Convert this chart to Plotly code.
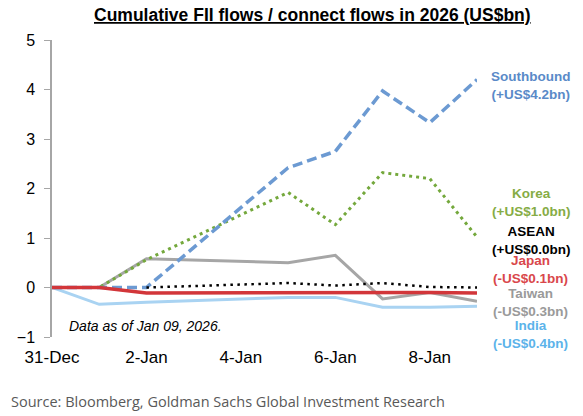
import plotly.graph_objects as go

# cumulative flows, US$bn
dates = ["2025-12-31", "2026-01-01", "2026-01-02", "2026-01-05",
         "2026-01-06", "2026-01-07", "2026-01-08", "2026-01-09"]
southbound = [0, 0, 0, 2.42, 2.75, 3.97, 3.33, 4.2]
korea = [0, 0, 0.56, 1.92, 1.27, 2.32, 2.2, 1.02]
asean = [None, None, 0.0, 0.09, 0.04, 0.09, 0.01, 0.0]
japan = [0, 0, -0.11, -0.1, -0.1, -0.1, -0.1, -0.11]
taiwan = [0, 0, 0.58, 0.5, 0.65, -0.23, -0.1, -0.28]
india = [0, -0.34, -0.3, -0.2, -0.2, -0.4, -0.4, -0.38]

tick_dates = ["2025-12-31", "2026-01-02", "2026-01-04", "2026-01-06", "2026-01-08"]
tick_labels = ["31-Dec", "2-Jan", "4-Jan", "6-Jan", "8-Jan"]

FONT = "Liberation Sans"

fig = go.Figure()

def add_line(y, color, width, dash):
    fig.add_trace(go.Scatter(x=dates, y=y, mode="lines", connectgaps=False,
                             line=dict(color=color, width=width, dash=dash),
                             hoverinfo="skip", showlegend=False))

add_line(india, "#A9D3F2", 3, "solid")
add_line(taiwan, "#A6A6A6", 3, "solid")
add_line(korea, "#74A83C", 3, "3px,4px")
add_line(southbound, "#6C9AD2", 3.5, "10px,5px")
add_line(japan, "#D2363A", 3.5, "solid")
add_line(asean, "#000000", 2.5, "2.5px,4.5px")

# series labels on the right
labels = [
    ("Southbound<br>(+US$4.2bn)", "#5A8AC8", 4.08),
    ("Korea<br>(+US$1.0bn)", "#86AC45", 1.71),
    ("ASEAN<br>(+US$0.0bn)", "#000000", 0.95),
    ("Japan<br>(-US$0.1bn)", "#D9474B", 0.37),
    ("Taiwan<br>(-US$0.3bn)", "#9A9A9A", -0.31),
    ("India<br>(-US$0.4bn)", "#5CB3EA", -0.95),
]
for txt, col, ypos in labels:
    fig.add_annotation(x=1.127, xref="paper", y=ypos, yref="y", text="<b>" + txt + "</b>",
                       showarrow=False, xanchor="center", yanchor="middle",
                       font=dict(family=FONT, size=13.5, color=col))

# title
fig.add_annotation(x=0.614, xref="paper", y=1.0, yref="paper", yshift=25,
                   text="<u><b>Cumulative FII flows / connect flows in 2026 (US$bn)</b></u>",
                   showarrow=False, xanchor="center", yanchor="middle",
                   font=dict(family=FONT, size=17.5, color="#000000"))

fig.add_annotation(x=0.035, xref="paper", y=-0.78, yref="y",
                   text="<i>Data as of Jan 09, 2026.</i>", showarrow=False,
                   xanchor="left", yanchor="middle",
                   font=dict(family=FONT, size=14, color="#000000"))

fig.add_annotation(x=-0.101, xref="paper", y=-0.217, yref="paper",
                   text="Source: Bloomberg, Goldman Sachs Global Investment Research",
                   showarrow=False, xanchor="left", yanchor="middle",
                   font=dict(family="Open Sans", size=14.5, color="#595959"))

fig.update_layout(
    width=583, height=416,
    margin=dict(l=52, r=106, t=40, b=79, autoexpand=False),
    plot_bgcolor="white", paper_bgcolor="white",
    xaxis=dict(range=["2025-12-31", "2026-01-09"], tickvals=tick_dates, ticktext=tick_labels,
               showgrid=False, zeroline=False, showline=False, ticks="",
               ticklabelstandoff=8, automargin=False,
               tickfont=dict(family=FONT, size=17, color="#000000")),
    xaxis2=dict(range=["2025-12-31", "2026-01-09"], overlaying="x", anchor="free",
                position=1 / 6, tickvals=tick_dates, showticklabels=False,
                showgrid=False, zeroline=False, showline=True, automargin=False,
                linecolor="#BFBFBF", linewidth=1,
                ticks="outside", ticklen=4, tickcolor="#A6A6A6"),
    yaxis=dict(range=[-1, 5], dtick=1, showgrid=False, zeroline=False,
               showline=True, linecolor="#A6A6A6", linewidth=1.5,
               ticks="outside", ticklen=6, tickcolor="#A6A6A6",
               ticklabelstandoff=6, automargin=False,
               tickfont=dict(family=FONT, size=16, color="#000000")),
)

# page body has a default 8px margin; drop it so the figure fills the window
fig.write_html("out.html", config={"displayModeBar": False},
               post_script="document.body.style.margin='0';")
